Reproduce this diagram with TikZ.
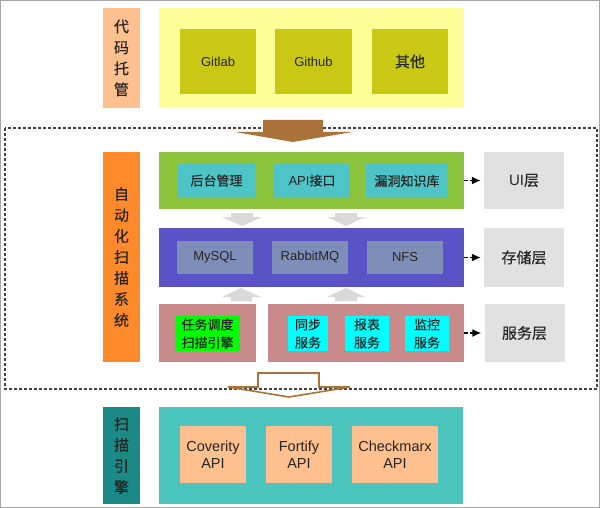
\documentclass[tikz,border=0pt]{standalone}
\usepackage{fontspec}
\setmainfont{Liberation Sans}
\newfontfamily\cjk[FakeBold=0.35]{Noto Sans CJK SC}
\definecolor{peach}{HTML}{FDC08E}
\definecolor{paleyellow}{HTML}{FFFF99}
\definecolor{olive}{HTML}{C9C815}
\definecolor{orangelbl}{HTML}{FF8A2C}
\definecolor{uigreen}{HTML}{8DC43D}
\definecolor{tealin}{HTML}{4EC4C6}
\definecolor{layergray}{HTML}{E1E1E1}
\definecolor{storeblue}{HTML}{5A53C6}
\definecolor{bluegray}{HTML}{7F8EB8}
\definecolor{rose}{HTML}{C98A8C}
\definecolor{limebox}{HTML}{00FF00}
\definecolor{cyanbox}{HTML}{00FFFF}
\definecolor{darkteal}{HTML}{1B8A86}
\definecolor{engteal}{HTML}{4CC5BF}
\definecolor{brownarr}{HTML}{A9733A}
\definecolor{arrgray}{HTML}{D9D9D9}
\tikzset{
	box/.style={inner sep=0pt, align=center, text=black!85},
	vlbl/.style={box, minimum width=37pt, font=\cjk\fontsize{15}{21}\selectfont},
	latin/.style={font=\fontsize{13}{15}\selectfont},
	hanzi/.style={font=\cjk\fontsize{13}{18}\selectfont},
	big/.style={font=\fontsize{14.5}{17}\selectfont},
	layerbox/.style={box, fill=layergray, minimum width=80pt, font=\cjk\fontsize{15}{17}\selectfont},
	dasharr/.style={dashed, dash pattern=on 3.5pt off 2.5pt, line width=1.5pt, -{Latex[length=9pt,width=8pt]}, shorten >=3pt}
}
\usetikzlibrary{arrows.meta}

\begin{document}
\begin{tikzpicture}[x=1pt, y=-1pt]
	\useasboundingbox (0,0) rectangle (600,508);
	\draw [gray!70] (0.5,0.5) rectangle (599.5,507.5);

	\node [vlbl, fill=peach, minimum height=100pt] (hostlbl) at (121.5,58) {代\\码\\托\\管};
	\node [box, fill=paleyellow, minimum width=305pt, minimum height=100pt] (hostbar) at (311.5,58) {};
	\node [box, latin, fill=olive, minimum width=76pt, minimum height=65pt] (gitlab) at (218,61.5) {Gitlab};
	\node [box, latin, fill=olive, minimum width=77pt, minimum height=65pt] (github) at (313.5,61.5) {Github};
	\node [box, fill=olive, minimum width=76pt, minimum height=65pt, font=\cjk\fontsize{15}{17}\selectfont] (other) at (410,61.5) {其他};

	\draw [dashed, dash pattern=on 3pt off 2pt, line width=1.2pt, black!75] (5,128) rectangle (597,389);

	\fill [brownarr] (263,120) -- (323,120) -- (323,132) -- (353,132) -- (293,142) -- (235,132) -- (263,132) -- cycle;

	\node [vlbl, fill=orangelbl, minimum height=210pt] (syslbl) at (121.5,257) {自\\动\\化\\扫\\描\\系\\统};

	\node [box, fill=uigreen, minimum width=305pt, minimum height=57pt] (uibar) at (311.5,180.5) {};
	\node [box, hanzi, fill=tealin, minimum width=77pt, minimum height=33pt] (admin) at (216.5,180.5) {后台管理};
	\node [box, fill=tealin, minimum width=76pt, minimum height=33pt, font=\fontsize{13}{15}\selectfont] (api) at (312,180.5) {API{\cjk 接口}};
	\node [box, hanzi, fill=tealin, minimum width=82pt, minimum height=33pt] (vuln) at (407,181) {漏洞知识库};
	\node [layerbox, minimum height=57pt] (uilayer) at (524,180.5) {{\rmfamily UI}层};

	\fill [arrgray] (231,213) -- (253,213) -- (253,217) -- (262,217) -- (242,226) -- (222,217) -- (231,217) -- cycle;
	\fill [arrgray] (335,213) -- (357,213) -- (357,217) -- (365,217) -- (346,226) -- (327,217) -- (335,217) -- cycle;

	\node [box, fill=storeblue, minimum width=305pt, minimum height=59pt] (storebar) at (311.5,257.5) {};
	\node [box, latin, fill=bluegray, minimum width=76pt, minimum height=33pt] (mysql) at (215,257.5) {MySQL};
	\node [box, latin, fill=bluegray, minimum width=76pt, minimum height=33pt] (rabbit) at (310,257.5) {RabbitMQ};
	\node [box, latin, fill=bluegray, minimum width=76pt, minimum height=33pt] (nfs) at (405,257.5) {NFS};
	\node [layerbox, minimum height=59pt] (storelayer) at (524,257.5) {存储层};

	\fill [arrgray] (231,301) -- (252,301) -- (252,297) -- (261,297) -- (241,288) -- (222,297) -- (231,297) -- cycle;
	\fill [arrgray] (335,301) -- (357,301) -- (357,297) -- (365,297) -- (346,288) -- (327,297) -- (335,297) -- cycle;

	\node [box, fill=rose, minimum width=97pt, minimum height=58pt] (svcleft) at (207.5,333) {};
	\node [box, fill=rose, minimum width=196pt, minimum height=58pt] (svcright) at (366,333) {};
	\node [box, hanzi, fill=limebox, minimum width=65pt, minimum height=35pt] (sched) at (207.5,333.5) {任务调度\\扫描引擎};
	\node [box, hanzi, fill=cyanbox, minimum width=40pt, minimum height=35pt] (sync) at (308,333.5) {同步\\服务};
	\node [box, hanzi, fill=cyanbox, minimum width=44pt, minimum height=35pt] (report) at (367,333.5) {报表\\服务};
	\node [box, hanzi, fill=cyanbox, minimum width=44pt, minimum height=35pt] (monitor) at (427,333.5) {监控\\服务};
	\node [layerbox, minimum height=58pt] (svclayer) at (524.5,333) {服务层};

	\draw [dasharr] (uibar.east) -- (uilayer.west);
	\draw [dasharr] (storebar.east) -- (storelayer.west);
	\draw [dasharr] (svcright.east) -- (svclayer.west);

	\draw [brownarr, line width=1.6pt, line join=miter] (258,373) -- (319,373) -- (319,387) -- (350,387) -- (289,397) -- (228,387) -- (258,387) -- cycle;

	\node [vlbl, fill=darkteal, minimum height=97pt] (englbl) at (121.5,455.5) {扫\\描\\引\\擎};
	\node [box, fill=engteal, minimum width=304pt, minimum height=97pt] (engbar) at (311,455.5) {};
	\node [box, big, fill=peach, minimum width=66pt, minimum height=57pt] (coverity) at (213,454.5) {Coverity\\API};
	\node [box, big, fill=peach, minimum width=66pt, minimum height=57pt] (fortify) at (299,454.5) {Fortify\\API};
	\node [box, big, fill=peach, minimum width=86pt, minimum height=57pt] (checkmarx) at (395,454.5) {Checkmarx\\API};
\end{tikzpicture}
\end{document}
